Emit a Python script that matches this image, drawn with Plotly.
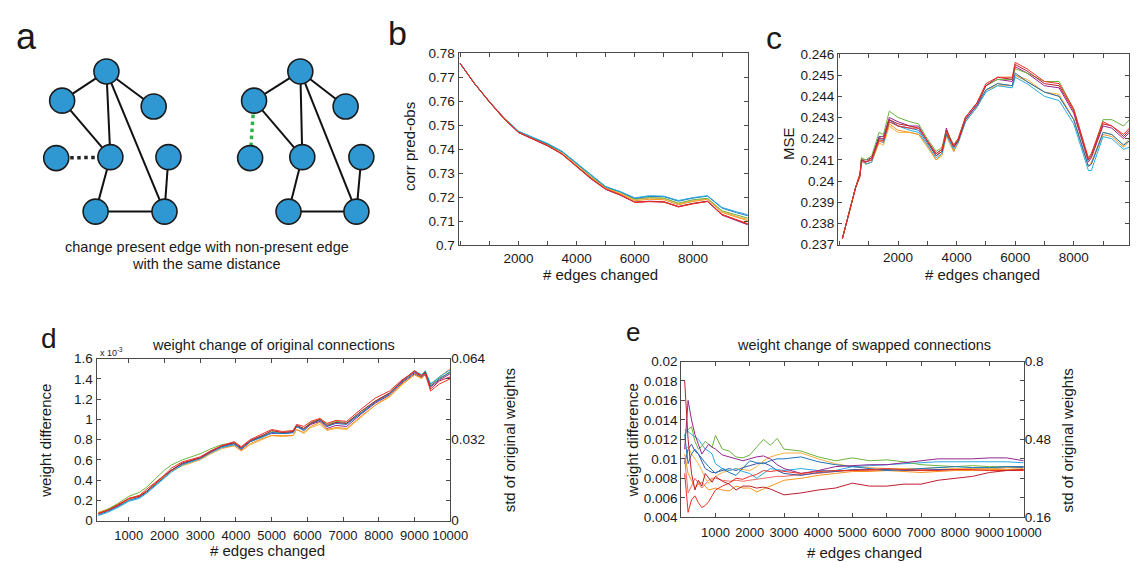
import plotly.graph_objects as go

W, H = 1145, 563
FONT = "Liberation Sans, Arial, Helvetica, sans-serif"
INK = "#1a1a1a"
AXC = "#4a4a4a"

# ---------------- panel a : network sketch (pixel-like units) ----------------
NODE_X_LEFT = [100, 55, 148, 49, 104, 163, 89, 159]
NODE_Y_LEFT = [58, 88, 94, 147, 146, 146, 202, 202]
NODE_X_RIGHT = [297, 250, 343, 246, 299, 359, 285, 354]
NODE_Y_RIGHT = [58, 88, 94, 147, 146, 146, 202, 202]
SOLID_EDGES = [(0, 1), (0, 2), (0, 4), (0, 7), (1, 4), (4, 6), (6, 7), (5, 7)]
REMOVED_EDGE = (3, 4)
ADDED_EDGE = (1, 3)
CAPTION = ["change present edge with non-present edge", "with the same distance"]

# ---------------- series colours ----------------
COLORS = {
    "purple": "#92278f", "yellow": "#fbb040", "orange": "#f7941d", "green": "#6cb33f",
    "blue": "#1c75bc", "cyan": "#29abe2", "crimson": "#be1e2d", "red": "#ee3124",
    "navy": "#3a53a4", "salmon": "#f26c64",
}

# ---------------- panel b : corr pred-obs ----------------
B_X = [0, 500, 1000, 1500, 2000, 2500, 3000, 3500, 4000, 4500, 5000, 5500, 6000,
       6500, 7000, 7500, 8000, 8500, 9000, 9500, 9900]
B_SERIES = {
    "purple": [.7757, .7672, .7598, .7527, .7470, .7442, .7416, .7379, .7327, .7276, .7233, .7209, .7180, .7184, .7182, .7162, .7174, .7183, .7126, .7104, .7085],
    "yellow": [.7757, .7672, .7599, .7529, .7473, .7448, .7422, .7385, .7337, .7285, .7241, .7217, .7190, .7197, .7195, .7173, .7187, .7195, .7142, .7121, .7108],
    "orange": [.7757, .7671, .7598, .7528, .7472, .7445, .7420, .7382, .7333, .7281, .7238, .7215, .7186, .7192, .7190, .7169, .7183, .7192, .7137, .7116, .7102],
    "green":  [.7757, .7673, .7597, .7532, .7476, .7448, .7418, .7391, .7339, .7287, .7243, .7222, .7193, .7199, .7197, .7176, .7190, .7196, .7144, .7126, .7113],
    "blue":   [.7757, .7672, .7599, .7530, .7475, .7449, .7423, .7390, .7341, .7290, .7244, .7223, .7196, .7204, .7203, .7184, .7197, .7205, .7155, .7136, .7123],
    "cyan":   [.7757, .7672, .7598, .7531, .7474, .7450, .7425, .7392, .7343, .7291, .7245, .7224, .7198, .7207, .7205, .7187, .7199, .7207, .7158, .7140, .7127],
    "crimson": [.7757, .7672, .7597, .7528, .7470, .7443, .7414, .7381, .7328, .7279, .7234, .7210, .7180, .7183, .7180, .7161, .7175, .7184, .7129, .7106, .7088],
    "red":    [.7757, .7673, .7600, .7531, .7471, .7444, .7417, .7380, .7329, .7278, .7235, .7211, .7179, .7182, .7181, .7160, .7173, .7183, .7128, .7107, .7090],
}
B_YTICKS = [0.70, 0.71, 0.72, 0.73, 0.74, 0.75, 0.76, 0.77, 0.78]
B_YTEXT = ["0.7", "0.71", "0.72", "0.73", "0.74", "0.75", "0.76", "0.77", "0.78"]

# ---------------- panel c : MSE ----------------
C_X = [100, 300, 550, 700, 750, 900, 1100, 1350, 1500, 1700, 2000, 2400, 2700, 2950,
       3300, 3500, 3650, 3750, 3900, 4050, 4300, 4700, 5000, 5400, 5900, 6000, 6400,
       7000, 7500, 8000, 8500, 8600, 9000, 9300, 9700, 9900]
C_SERIES = {
    "yellow": [.2373, .2384, .2397, .2403, .2411, .2408, .2409, .2418, .2417, .2426, .2423, .2423, .2422, .2417, .2410, .2412, .2421, .2418, .2414, .2418, .2428, .2435, .2443, .2445, .2445, .2450, .2448, .2442, .2441, .2429, .2407, .2409, .2423, .2422, .2417, .2420],
    "orange": [.2373, .2384, .2397, .2404, .2410, .2408, .2409, .2419, .2418, .2427, .2424, .2423, .2422, .2418, .2410, .2413, .2422, .2419, .2414, .2418, .2428, .2435, .2443, .2446, .2445, .2450, .2447, .2442, .2440, .2429, .2407, .2408, .2422, .2421, .2416, .2419],
    "cyan":   [.2373, .2384, .2397, .2403, .2410, .2408, .2409, .2420, .2418, .2428, .2426, .2424, .2423, .2418, .2411, .2413, .2422, .2419, .2415, .2418, .2428, .2435, .2442, .2445, .2444, .2449, .2446, .2440, .2438, .2427, .2405, .2405, .2421, .2420, .2415, .2416],
    "blue":   [.2373, .2384, .2397, .2403, .2410, .2409, .2410, .2421, .2419, .2429, .2426, .2425, .2424, .2419, .2412, .2414, .2422, .2420, .2416, .2419, .2429, .2436, .2443, .2446, .2445, .2451, .2447, .2442, .2440, .2429, .2407, .2408, .2423, .2422, .2417, .2419],
    "purple": [.2373, .2384, .2397, .2403, .2410, .2410, .2411, .2421, .2421, .2430, .2428, .2426, .2426, .2420, .2413, .2415, .2425, .2421, .2417, .2419, .2429, .2436, .2445, .2448, .2447, .2454, .2451, .2445, .2444, .2432, .2409, .2411, .2426, .2425, .2420, .2423],
    "green":  [.2373, .2384, .2397, .2403, .2411, .2410, .2412, .2423, .2422, .2433, .2430, .2428, .2427, .2421, .2414, .2416, .2424, .2421, .2417, .2420, .2430, .2437, .2445, .2448, .2448, .2453, .2451, .2447, .2447, .2434, .2410, .2412, .2429, .2429, .2426, .2429],
    "crimson": [.2373, .2384, .2397, .2402, .2410, .2409, .2411, .2420, .2420, .2429, .2427, .2426, .2425, .2420, .2412, .2414, .2424, .2421, .2416, .2419, .2430, .2437, .2445, .2449, .2448, .2455, .2452, .2446, .2445, .2433, .2410, .2412, .2427, .2426, .2421, .2424],
    "red":    [.2373, .2384, .2397, .2403, .2409, .2409, .2410, .2419, .2419, .2428, .2426, .2425, .2425, .2420, .2413, .2415, .2423, .2420, .2417, .2420, .2430, .2437, .2446, .2449, .2449, .2456, .2453, .2447, .2446, .2434, .2411, .2413, .2428, .2426, .2422, .2425],
}
C_YTICKS = [0.237, 0.238, 0.239, 0.240, 0.241, 0.242, 0.243, 0.244, 0.245, 0.246]
C_YTEXT = ["0.237", "0.238", "0.239", "0.24", "0.241", "0.242", "0.243", "0.244", "0.245", "0.246"]

# ---------------- panel d : weight change of original connections (x 1e-3) ----------------
D_X = [150, 400, 700, 1000, 1300, 1500, 2000, 2200, 2500, 3000, 3300, 3600, 3950, 4150,
       4400, 4800, 5000, 5300, 5600, 5700, 5900, 6100, 6350, 6550, 6800, 7100, 7500,
       7900, 8300, 8650, 9000, 9200, 9300, 9450, 9700, 10000]
D_SERIES = {
    "purple": [.07, .10, .15, .21, .24, .29, .44, .50, .56, .62, .69, .73, .76, .70, .78, .84, .86, .86, .87, .93, .89, .95, .98, .91, .94, .93, 1.05, 1.16, 1.24, 1.36, 1.45, 1.41, 1.44, 1.32, 1.39, 1.45],
    "yellow": [.08, .11, .16, .21, .24, .29, .43, .49, .54, .60, .66, .71, .74, .69, .75, .81, .84, .83, .84, .90, .86, .92, .95, .89, .91, .90, 1.02, 1.14, 1.22, 1.34, 1.44, 1.40, 1.45, 1.33, 1.40, 1.47],
    "orange": [.08, .11, .15, .21, .25, .29, .44, .49, .55, .61, .67, .72, .74, .69, .76, .82, .84, .84, .84, .90, .87, .93, .97, .90, .92, .91, 1.03, 1.14, 1.23, 1.35, 1.44, 1.41, 1.45, 1.34, 1.42, 1.50],
    "green":  [.07, .11, .17, .24, .28, .33, .50, .55, .60, .66, .71, .75, .77, .72, .79, .85, .88, .87, .88, .94, .91, .97, 1.00, .95, .98, .97, 1.07, 1.18, 1.26, 1.38, 1.47, 1.44, 1.47, 1.35, 1.41, 1.46],
    "cyan":   [.05, .08, .13, .19, .22, .27, .42, .48, .55, .61, .67, .72, .75, .71, .78, .83, .87, .86, .87, .93, .89, .96, .99, .93, .97, .96, 1.06, 1.17, 1.25, 1.38, 1.48, 1.44, 1.48, 1.35, 1.42, 1.49],
    "blue":   [.06, .09, .14, .20, .23, .28, .43, .50, .56, .62, .68, .73, .76, .71, .78, .84, .87, .86, .87, .93, .90, .96, .99, .93, .96, .95, 1.06, 1.17, 1.25, 1.37, 1.46, 1.42, 1.46, 1.33, 1.40, 1.47],
    "crimson": [.07, .10, .15, .22, .24, .29, .45, .50, .57, .62, .68, .74, .77, .72, .79, .85, .89, .87, .88, .94, .91, .96, 1.00, .94, .97, .96, 1.08, 1.18, 1.26, 1.38, 1.48, 1.43, 1.47, 1.30, 1.38, 1.42],
    "red":    [.07, .10, .16, .22, .25, .31, .45, .52, .58, .63, .69, .74, .78, .73, .80, .87, .90, .88, .89, .95, .93, .98, 1.01, .96, .99, .98, 1.10, 1.21, 1.28, 1.39, 1.47, 1.42, 1.45, 1.28, 1.35, 1.40],
}
D_YTICKS = [0, 0.2, 0.4, 0.6, 0.8, 1.0, 1.2, 1.4, 1.6]
D_YTEXT = ["0", "0.2", "0.4", "0.6", "0.8", "1", "1.2", "1.4", "1.6"]
D_RTICKS = [0, 0.032, 0.064]
D_RTEXT = ["0", "0.032", "0.064"]

# ---------------- panel e : weight change of swapped connections ----------------
E_X = [100, 200, 300, 400, 500, 600, 700, 800, 900, 1000, 1200, 1400, 1600, 1800, 2000,
       2200, 2400, 2600, 2800, 3000, 3500, 4000, 4500, 5000, 5500, 6000, 6500, 7000,
       7500, 8000, 8500, 9000, 9500, 10000]
E_SERIES = {
    "salmon": [.0100, .0065, .0072, .0080, .0075, .0070, .0074, .0078, .0080, .0080, .0078, .0077, .0078, .0077, .0078, .0079, .0080, .0081, .0082, .0082, .0084, .0085, .0087, .0088, .0088, .0088, .0089, .0089, .0089, .0089, .0088, .0088, .0089, .0089],
    "navy":   [.0095, .0110, .0115, .0108, .0105, .0098, .0090, .0088, .0086, .0086, .0088, .0090, .0088, .0091, .0093, .0095, .0096, .0093, .0088, .0085, .0083, .0086, .0087, .0089, .0089, .0089, .0088, .0088, .0089, .0089, .0090, .0090, .0091, .0091],
    "yellow": [.0110, .0112, .0105, .0100, .0095, .0088, .0080, .0075, .0079, .0082, .0086, .0088, .0090, .0089, .0088, .0092, .0098, .0102, .0104, .0106, .0106, .0100, .0095, .0092, .0091, .0090, .0090, .0090, .0091, .0090, .0090, .0090, .0091, .0090],
    "cyan":   [.0130, .0128, .0125, .0122, .0120, .0115, .0110, .0108, .0105, .0095, .0090, .0088, .0090, .0087, .0085, .0080, .0085, .0090, .0089, .0088, .0090, .0088, .0088, .0092, .0093, .0094, .0095, .0096, .0097, .0097, .0097, .0097, .0097, .0096],
    "orange": [.0105, .0085, .0078, .0070, .0074, .0076, .0072, .0068, .0069, .0070, .0068, .0067, .0072, .0070, .0070, .0066, .0069, .0072, .0075, .0078, .0080, .0083, .0085, .0087, .0087, .0088, .0087, .0086, .0087, .0088, .0088, .0089, .0089, .0088],
    "green":  [.0125, .0130, .0133, .0118, .0110, .0113, .0118, .0115, .0112, .0124, .0110, .0108, .0102, .0101, .0104, .0112, .0120, .0114, .0121, .0110, .0108, .0102, .0098, .0101, .0098, .0099, .0097, .0094, .0093, .0092, .0093, .0092, .0092, .0092],
    "blue":   [.0125, .0095, .0105, .0110, .0105, .0100, .0096, .0092, .0088, .0085, .0090, .0086, .0083, .0090, .0098, .0096, .0095, .0098, .0100, .0100, .0102, .0097, .0094, .0092, .0090, .0088, .0089, .0090, .0091, .0092, .0091, .0091, .0092, .0092],
    "purple": [.0110, .0160, .0140, .0125, .0115, .0105, .0110, .0115, .0112, .0110, .0104, .0102, .0100, .0098, .0100, .0102, .0103, .0100, .0094, .0090, .0085, .0088, .0092, .0093, .0094, .0094, .0096, .0098, .0100, .0100, .0100, .0101, .0101, .0098],
    "red":    [.0085, .0045, .0058, .0062, .0055, .0050, .0052, .0056, .0062, .0068, .0072, .0075, .0080, .0079, .0082, .0084, .0088, .0087, .0088, .0087, .0085, .0087, .0088, .0088, .0089, .0090, .0089, .0088, .0088, .0089, .0089, .0088, .0088, .0088],
    "crimson": [.0180, .0120, .0085, .0068, .0078, .0072, .0085, .0080, .0076, .0082, .0077, .0074, .0068, .0072, .0072, .0070, .0071, .0069, .0066, .0063, .0065, .0068, .0070, .0075, .0072, .0072, .0074, .0074, .0078, .0080, .0082, .0086, .0088, .0089],
}
E_YTICKS = [0.004, 0.006, 0.008, 0.010, 0.012, 0.014, 0.016, 0.018, 0.020]
E_YTEXT = ["0.004", "0.006", "0.008", "0.01", "0.012", "0.014", "0.016", "0.018", "0.02"]
E_RTICKS = [0.16, 0.48, 0.8]
E_RTEXT = ["0.16", "0.48", "0.8"]

X_TICKS_2K = [2000, 4000, 6000, 8000]
X_TEXT_2K = ["2000", "4000", "6000", "8000"]
X_TICKS_1K = [1000, 2000, 3000, 4000, 5000, 6000, 7000, 8000, 9000, 10000]
X_TEXT_1K = ["1000", "2000", "3000", "4000", "5000", "6000", "7000", "8000", "9000", "10000"]


def px(x):
    return x / W


def py(y):
    return 1 - y / H


fig = go.Figure()


def edge_trace(nx, ny, edges, color, width, dash):
    xs, ys = [], []
    for i, j in edges:
        xs += [nx[i], nx[j], None]
        ys += [ny[i], ny[j], None]
    return go.Scatter(x=xs, y=ys, mode="lines", line=dict(color=color, width=width, dash=dash),
                      xaxis="x", yaxis="y", showlegend=False, hoverinfo="skip")


fig.add_trace(edge_trace(NODE_X_LEFT, NODE_Y_LEFT, SOLID_EDGES, "#111111", 2, "solid"))
fig.add_trace(edge_trace(NODE_X_LEFT, NODE_Y_LEFT, [REMOVED_EDGE], "#222222", 3.5, "dot"))
fig.add_trace(edge_trace(NODE_X_RIGHT, NODE_Y_RIGHT, SOLID_EDGES, "#111111", 2, "solid"))
fig.add_trace(edge_trace(NODE_X_RIGHT, NODE_Y_RIGHT, [ADDED_EDGE], "#2db34a", 3.5, "dot"))
for nx, ny in ((NODE_X_LEFT, NODE_Y_LEFT), (NODE_X_RIGHT, NODE_Y_RIGHT)):
    fig.add_trace(go.Scatter(x=nx, y=ny, mode="markers",
                             marker=dict(size=25, color="#2f98d2", line=dict(color="#1b1b1b", width=1.6)),
                             xaxis="x", yaxis="y", showlegend=False, hoverinfo="skip"))


def add_series(xs, series, xa, ya):
    for name, ys in series.items():
        fig.add_trace(go.Scatter(x=xs, y=ys, mode="lines", line=dict(color=COLORS[name], width=1),
                                 xaxis=xa, yaxis=ya, showlegend=False, hoverinfo="skip"))


add_series(B_X, B_SERIES, "x2", "y2")
add_series(C_X, C_SERIES, "x3", "y3")
add_series(D_X, D_SERIES, "x4", "y4")
add_series(E_X, E_SERIES, "x5", "y6")
fig.add_trace(go.Scatter(x=[None], y=[None], xaxis="x4", yaxis="y5", showlegend=False, hoverinfo="skip"))
fig.add_trace(go.Scatter(x=[None], y=[None], xaxis="x5", yaxis="y7", showlegend=False, hoverinfo="skip"))

TICKFONT = dict(family=FONT, size=13.5, color=INK)
XTICKFONT_D = dict(family=FONT, size=13, color=INK)


def box_axis(domain, rng, tickvals, ticktext, anchor, **kw):
    d = dict(domain=domain, range=rng, tickvals=tickvals, ticktext=ticktext, anchor=anchor,
             showline=True, linecolor=AXC, linewidth=1, mirror="ticks", ticks="inside",
             ticklen=4, tickcolor=AXC, tickwidth=1, showgrid=False, zeroline=False,
             tickfont=TICKFONT, fixedrange=True, tickangle=0)
    d.update(kw)
    return d


MINOR_1K = dict(ticks="inside", dtick=1000, tick0=0, ticklen=4, tickcolor=AXC, tickwidth=1, showgrid=False)

B_XD = [px(457.7), px(751.5)]
B_YD = [py(236.7), py(39.3)]
C_XD = [px(843.3), px(1139.3)]
C_YD = [py(236.0), py(40.0)]
D_XD = [px(90.0), px(449.3)]
D_YD = [py(519.5), py(353.0)]
E_XD = [px(684.0), px(1032.0)]
E_YD = [py(516.0), py(356.0)]

fig.update_layout(
    width=W, height=H, autosize=False,
    margin=dict(l=0, r=0, t=0, b=0, pad=0),
    paper_bgcolor="white", plot_bgcolor="white",
    showlegend=False,
    font=dict(family=FONT, color=INK),
    xaxis=dict(domain=[0, px(400)], range=[0, 400], visible=False, fixedrange=True, anchor="y"),
    yaxis=dict(domain=[py(270), 1], range=[270, 0], visible=False, fixedrange=True, anchor="x"),
    xaxis2=box_axis(B_XD, [-60, 9880], X_TICKS_2K, X_TEXT_2K, "y2", minor=MINOR_1K),
    yaxis2=box_axis(B_YD, [0.70, 0.78], B_YTICKS, B_YTEXT, "x2"),
    xaxis3=box_axis(C_XD, [-50, 9900], X_TICKS_2K, X_TEXT_2K, "y3", minor=MINOR_1K),
    yaxis3=box_axis(C_YD, [0.237, 0.246], C_YTICKS, C_YTEXT, "x3"),
    xaxis4=box_axis(D_XD, [100, 10000], X_TICKS_1K, X_TEXT_1K, "y4", tickfont=XTICKFONT_D,
                    ticklabelstandoff=3),
    yaxis4=box_axis(D_YD, [0, 1.6], D_YTICKS, D_YTEXT, "x4"),
    yaxis5=dict(overlaying="y4", side="right", anchor="x4", range=[0, 0.064],
                tickvals=D_RTICKS, ticktext=D_RTEXT, showline=False, showgrid=False,
                zeroline=False, ticks="", tickfont=TICKFONT, fixedrange=True),
    xaxis5=box_axis(E_XD, [0, 10000], X_TICKS_1K, X_TEXT_1K, "y6", tickfont=XTICKFONT_D,
                    ticklabelstandoff=3),
    yaxis6=box_axis(E_YD, [0.004, 0.02], E_YTICKS, E_YTEXT, "x5"),
    yaxis7=dict(overlaying="y6", side="right", anchor="x5", range=[0.16, 0.8],
                tickvals=E_RTICKS, ticktext=E_RTEXT, showline=False, showgrid=False,
                zeroline=False, ticks="", tickfont=TICKFONT, fixedrange=True),
)

anns = []


def label(text, x, y, size, angle=0, xanchor="center", yanchor="middle"):
    anns.append(dict(text=text, x=px(x), y=py(y), xref="paper", yref="paper", showarrow=False,
                     xanchor=xanchor, yanchor=yanchor, textangle=angle,
                     font=dict(family=FONT, size=size, color=INK)))


# panel letters
label("a", 19, 22, 36)
label("b", 396, 19, 34)
label("c", 778, 24, 32)
label("d", 42, 332, 28)
label("e", 635, 326, 26)

# panel a caption
label(CAPTION[0], 202, 238, 14.5)
label(CAPTION[1], 202, 256, 14.5)

# axis titles
XT = "# edges changed"
label("corr pred-obs", 408, 135, 15, angle=-90)
label(XT, 602, 267, 15)
label("MSE", 793, 132, 15, angle=-90)
label(XT, 990, 267, 15)
label("weight change of original connections", 270, 339, 14.5)
label("weight difference", 38, 437, 15, angle=-90)
label("std of original weights", 509, 437, 15, angle=-90)
label(XT, 264, 550, 15)
label("x 10<sup>-3</sup>", 91, 346, 9, xanchor="left")
label("weight change of swapped connections", 870, 339, 14.5)
label("weight difference", 634, 437, 15, angle=-90)
label("std of original weights", 1076, 437, 15, angle=-90)
label(XT, 870, 552, 15)

fig.update_layout(annotations=anns)

fig.write_html("out.html")
